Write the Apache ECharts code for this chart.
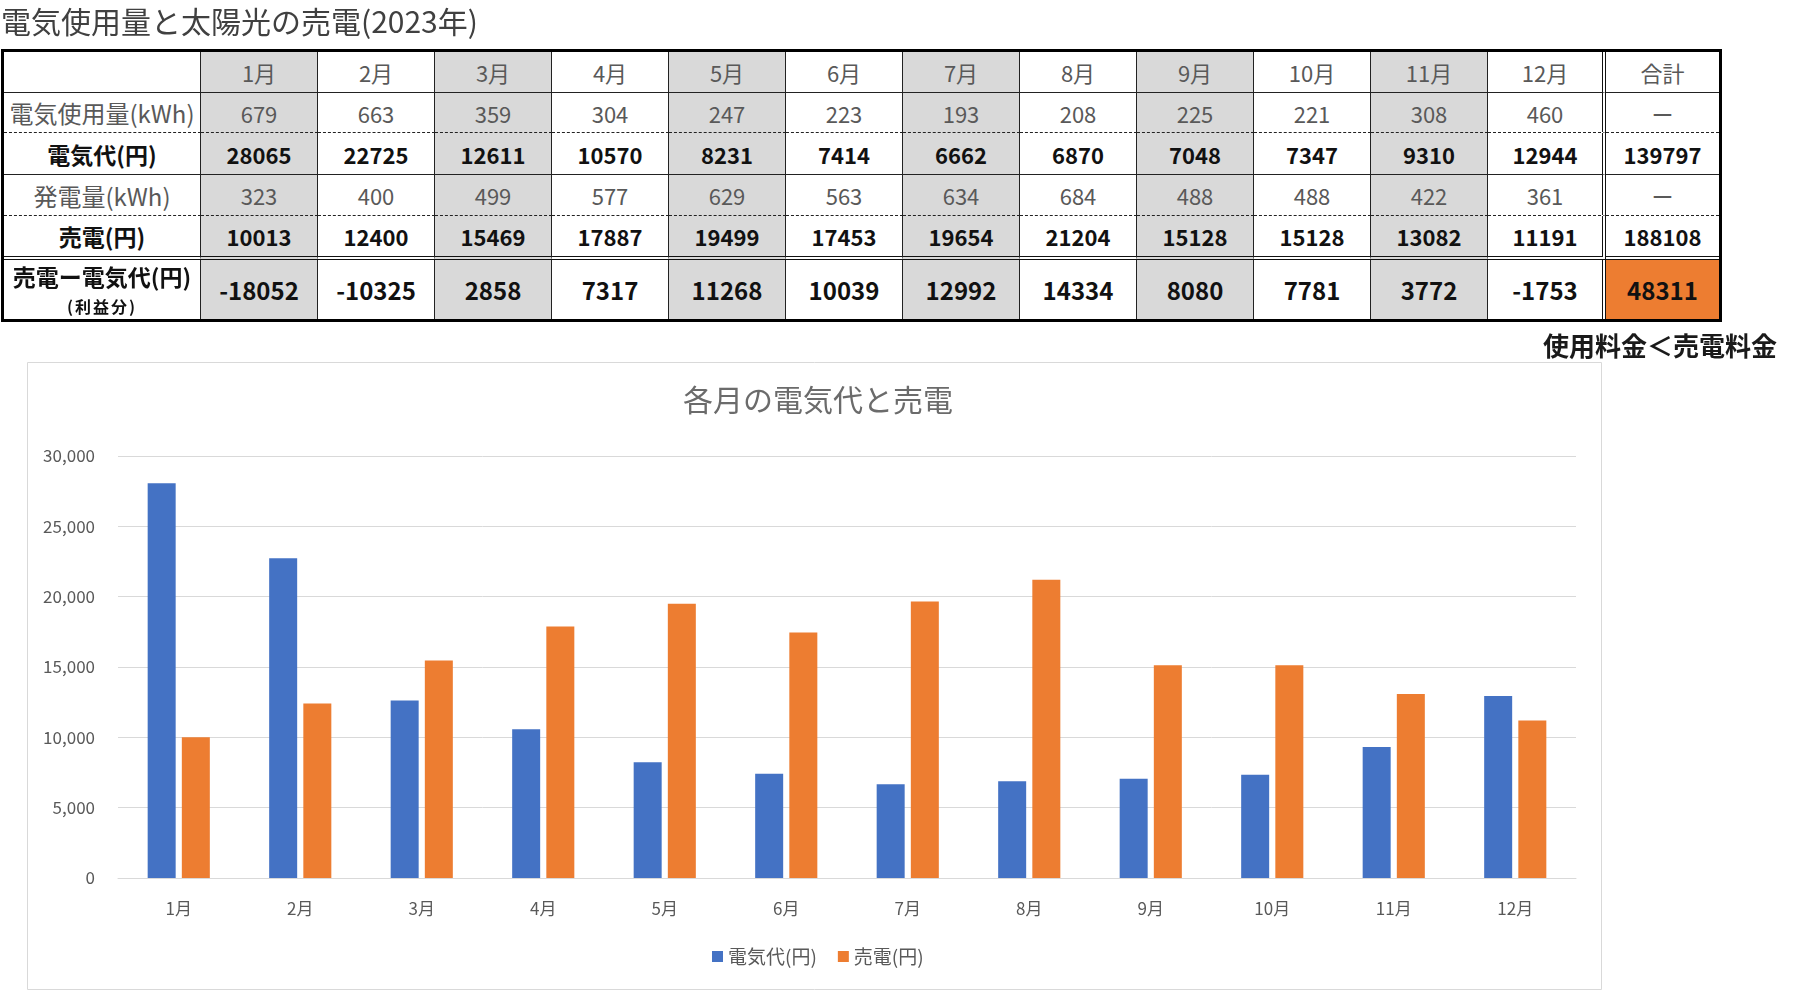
<!DOCTYPE html>
<html><head><meta charset="utf-8">
<script src="https://cdn.jsdelivr.net/npm/echarts@6/dist/echarts.min.js"></script>
<style>
html,body{margin:0;padding:0;background:#fff;width:1800px;height:1004px;overflow:hidden;font-family:"Noto Sans CJK JP","Noto Sans",sans-serif;}
#chart{position:absolute;left:0;top:0;width:1800px;height:1004px;}
#pageTitle{position:absolute;left:1px;top:0px;font-size:30px;line-height:40px;color:#404040;white-space:nowrap;}
#note{position:absolute;left:1543px;top:328px;font-size:26px;line-height:34px;font-weight:bold;color:#1a1a1a;white-space:nowrap;}
.cell{position:absolute;box-sizing:border-box;display:flex;flex-direction:column;align-items:center;justify-content:center;white-space:nowrap;overflow:visible;}
#frame{position:absolute;left:1px;top:49px;width:1721px;height:273px;box-sizing:border-box;border:3px solid #000;pointer-events:none;}
</style></head><body>
<div id="chart"></div>
<div id="pageTitle">電気使用量と太陽光の売電(2023年)</div>
<div id="table"></div>
<div id="frame"></div>
<div id="note">使用料金＜売電料金</div>
<script>
// ---- data ----
const months = ['1月','2月','3月','4月','5月','6月','7月','8月','9月','10月','11月','12月'];
const usageKWh = [679,663,359,304,247,223,193,208,225,221,308,460];
const costYen = [28065,22725,12611,10570,8231,7414,6662,6870,7048,7347,9310,12944];
const generationKWh = [323,400,499,577,629,563,634,684,488,488,422,361];
const salesYen = [10013,12400,15469,17887,19499,17453,19654,21204,15128,15128,13082,11191];
const profitYen = [-18052,-10325,2858,7317,11268,10039,12992,14334,8080,7781,3772,-1753];
const totalHeader = '合計';
const totals = ['ー', 139797, 'ー', 188108, 48311];
const rowLabels = ['電気使用量(kWh)','電気代(円)','発電量(kWh)','売電(円)','売電ー電気代(円)'];
const profitSubLabel = '(利益分)';
const yTicks = [0,5000,10000,15000,20000,25000,30000];

// ---- table ----
const colX = [4,201,318,435,552,669,786,903,1020,1137,1254,1371,1488,1606,1719];
const rowY = [52,93,133,175,216,260,319];
const rowBottom = ['1px solid #222','1px dashed #222','1px solid #222','1px dashed #222','4px double #111','none'];
const rowStyle = [
  {size:22, weight:'normal', color:'#595959'},
  {size:22, weight:'normal', color:'#595959'},
  {size:22, weight:'bold', color:'#111'},
  {size:22, weight:'normal', color:'#595959'},
  {size:22, weight:'bold', color:'#111'},
  {size:24, weight:'bold', color:'#111'}
];
const labelSize = [22, 24, 23, 24, 23, 23];
const rows = [
  ['', ...months, totalHeader],
  [rowLabels[0], ...usageKWh, totals[0]],
  [rowLabels[1], ...costYen, totals[1]],
  [rowLabels[2], ...generationKWh, totals[2]],
  [rowLabels[3], ...salesYen, totals[3]],
  [rowLabels[4], ...profitYen, totals[4]]
];
const tbl = document.getElementById('table');
rows.forEach((row, r) => {
  row.forEach((val, c) => {
    const d = document.createElement('div');
    d.className = 'cell';
    const x0 = colX[c], x1 = colX[c+1], y0 = rowY[r], y1 = rowY[r+1];
    d.style.left = x0 + 'px'; d.style.top = y0 + 'px';
    d.style.width = (x1 - x0) + 'px'; d.style.height = (y1 - y0) + 'px';
    if (c === 12) d.style.borderRight = '4px double #111';
    else if (c < 13) d.style.borderRight = '1px solid #222';
    d.style.borderBottom = rowBottom[r];
    let bg = '#fff';
    if (c >= 1 && c <= 12 && (c % 2 === 1)) bg = '#d9d9d9';
    if (r === 5 && c === 13) bg = '#ed7d31';
    d.style.background = bg;
    const st = rowStyle[r];
    d.style.fontSize = (c === 0 ? labelSize[r] : st.size) + 'px';
    d.style.fontWeight = st.weight;
    d.style.color = st.color;
    if (r === 5 && c === 0) {
      d.style.justifyContent = 'flex-start';
      const a = document.createElement('div');
      a.textContent = val; a.style.lineHeight = '26px'; a.style.marginTop = '3px';
      const b = document.createElement('div');
      b.textContent = profitSubLabel; b.style.fontSize = '16px'; b.style.lineHeight = '20px';
      b.style.letterSpacing = '2px'; b.style.marginTop = '7px';
      d.appendChild(a); d.appendChild(b);
    } else {
      d.textContent = val;
    }
    tbl.appendChild(d);
  });
});

// ---- chart ----
const chart = echarts.init(document.getElementById('chart'), null, {renderer:'canvas'});
const FONT = '"Noto Sans CJK JP", "Noto Sans", sans-serif';
chart.setOption({
  animation:false,
  textStyle:{fontFamily:FONT},
  graphic:[{type:'rect', silent:true, shape:{x:27.5,y:362.5,width:1574,height:627}, style:{fill:'none', stroke:'#d9d9d9', lineWidth:1}}],
  title:{text:'各月の電気代と売電', left:813, top:380, textAlign:'center',
    textStyle:{fontSize:30, fontWeight:'normal', color:'#6b6b6b', fontFamily:FONT}},
  legend:{left:707, top:942, itemWidth:11, itemHeight:11, icon:'rect', itemGap:21,
    textStyle:{fontSize:19, color:'#595959', fontFamily:FONT}},
  grid:{left:118, top:456, width:1458, height:422},
  xAxis:{type:'category', data:months,
    axisLine:{lineStyle:{color:'#d9d9d9', width:1}}, axisTick:{show:false},
    axisLabel:{color:'#595959', fontSize:17, margin:22, fontFamily:FONT}},
  yAxis:{type:'value', min:yTicks[0], max:yTicks[yTicks.length-1], interval:yTicks[1]-yTicks[0],
    axisLine:{show:false}, axisTick:{show:false},
    splitLine:{lineStyle:{color:'#d9d9d9', width:1}},
    axisLabel:{color:'#595959', fontSize:17, margin:23, fontFamily:FONT,
      formatter:v => v.toLocaleString('en-US')}},
  series:[
    {name:'電気代(円)', type:'bar', data:costYen, barWidth:28, barGap:'22%', itemStyle:{color:'#4472c4'}},
    {name:'売電(円)', type:'bar', data:salesYen, barWidth:28, barGap:'22%', itemStyle:{color:'#ed7d31'}}
  ]
});
</script>
</body></html>
